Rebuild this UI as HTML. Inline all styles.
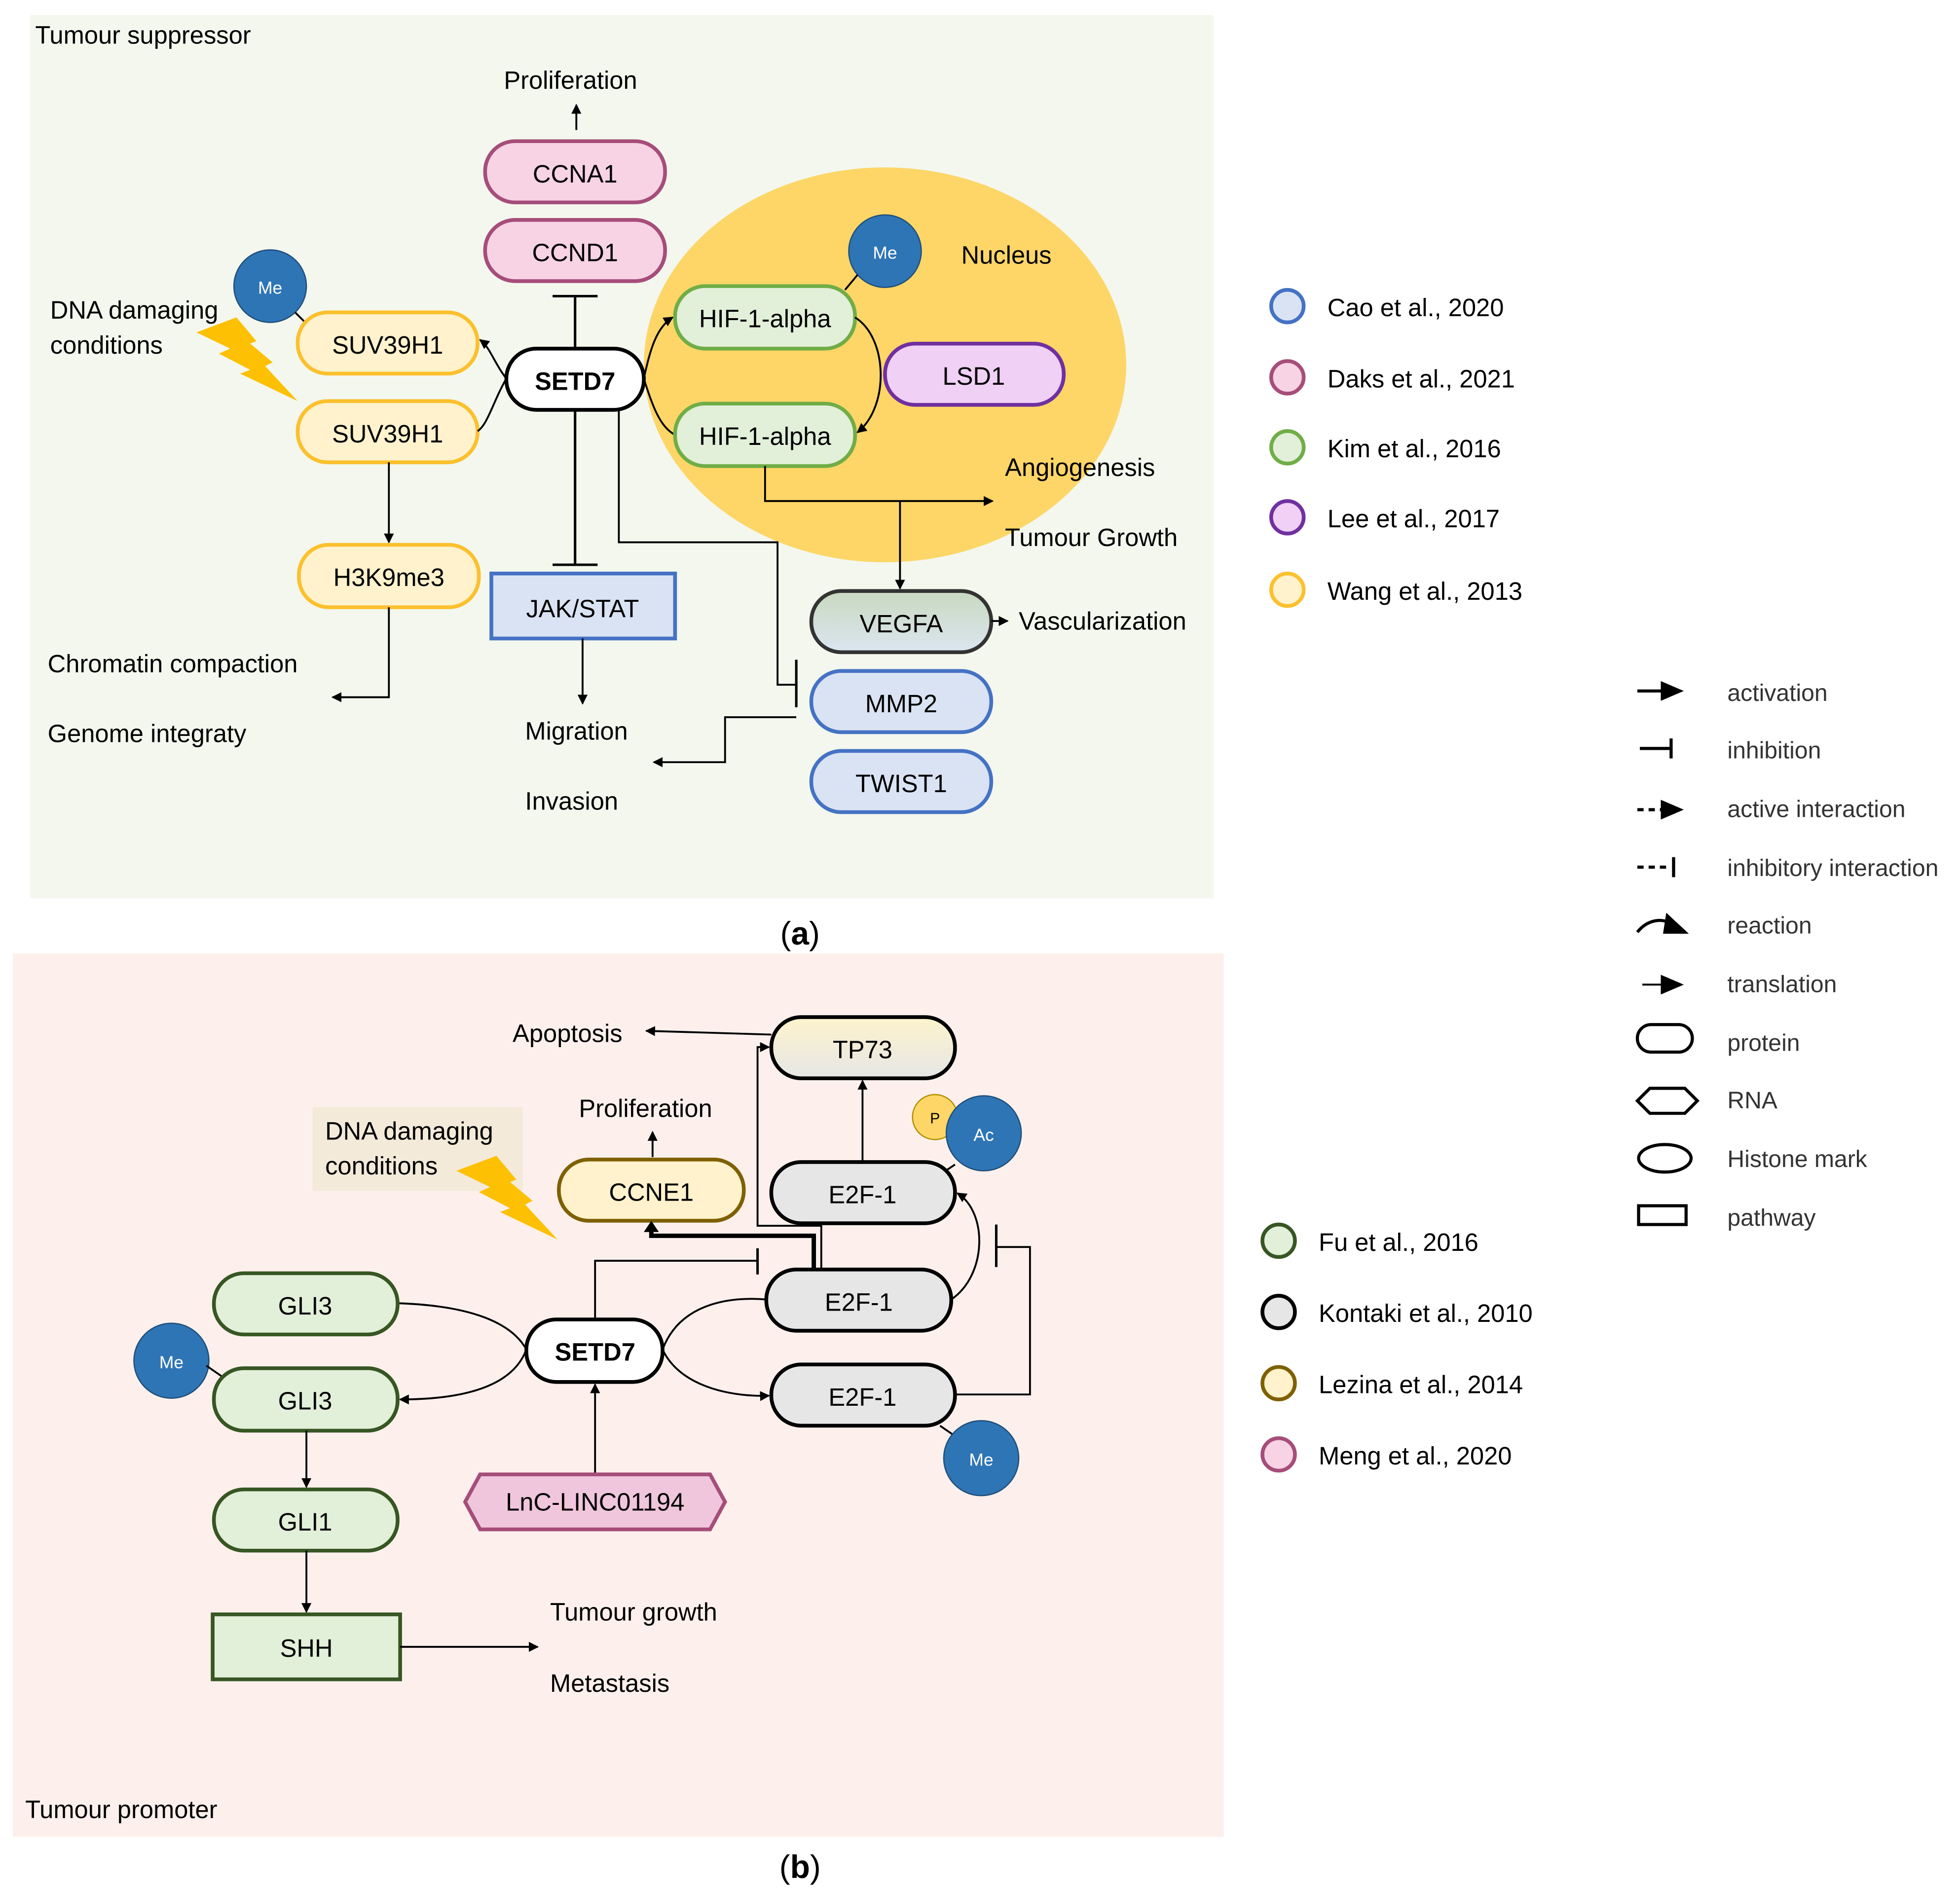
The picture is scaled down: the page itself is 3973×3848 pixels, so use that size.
<!DOCTYPE html>
<html><head><meta charset="utf-8"><style>
html,body{margin:0;padding:0;background:#fff;}
svg{display:block;}
text{font-family:"Liberation Sans","DejaVu Sans",sans-serif;}
</style></head><body>
<svg width="3973" height="3848" viewBox="0 0 1568 1519" xmlns="http://www.w3.org/2000/svg">
<defs>
<marker id="ar" markerWidth="8" markerHeight="8" refX="7" refY="4" orient="auto" markerUnits="userSpaceOnUse"><path d="M0,0 L8,4 L0,8 z" fill="#000"/></marker>
<linearGradient id="vg" x1="0" y1="0" x2="0" y2="1"><stop offset="0" stop-color="#c9d9c0"/><stop offset="1" stop-color="#dbe5f0"/></linearGradient>
<linearGradient id="tg" x1="0" y1="0" x2="0" y2="1"><stop offset="0" stop-color="#fdf3cc"/><stop offset="1" stop-color="#e6e6e6"/></linearGradient>
</defs>
<g font-size="20" fill="#000">
<!-- panel a -->
<rect x="24" y="12" width="947" height="707" fill="#f3f7ee"/>
<text x="28" y="35">Tumour suppressor</text>
<ellipse cx="708" cy="292" rx="193" ry="158" fill="#fdd667"/>
<text x="769" y="211">Nucleus</text>
<text x="403" y="71">Proliferation</text>
<line x1="461" y1="104" x2="461" y2="84" stroke="#000" stroke-width="1.5" marker-end="url(#ar)"/>
<rect x="388" y="113" width="144" height="49" rx="24" fill="#f7d3e4" stroke="#a64d79" stroke-width="3"/>
<text x="460" y="146" text-anchor="middle">CCNA1</text>
<rect x="388" y="176" width="144" height="49" rx="24" fill="#f7d3e4" stroke="#a64d79" stroke-width="3"/>
<text x="460" y="209" text-anchor="middle">CCND1</text>
<line x1="460" y1="279" x2="460" y2="237" stroke="#000" stroke-width="2"/>
<line x1="442" y1="237" x2="478" y2="237" stroke="#000" stroke-width="2"/>
<rect x="405" y="279" width="110" height="49" rx="24" fill="#fff" stroke="#000" stroke-width="3"/>
<text x="460" y="312" text-anchor="middle" font-weight="bold">SETD7</text>
<text x="40" y="255">DNA damaging</text><text x="40" y="283">conditions</text>
<polygon id="bolt" points="157,266 189,254 205,273 200,275 218,290 212,293 238,321 192,299 200,296 175,283 184,279" fill="#fdc003"/>
<circle cx="216" cy="229" r="29" fill="#2e75b6" stroke="#1f4e79"/>
<text x="216" y="235" text-anchor="middle" font-size="14" fill="#fff">Me</text>
<line x1="236" y1="250" x2="244" y2="258" stroke="#000" stroke-width="1.5"/>
<rect x="238" y="250" width="144" height="49" rx="24" fill="#fff2cc" stroke="#fbc02d" stroke-width="3"/>
<text x="310" y="283" text-anchor="middle">SUV39H1</text>
<rect x="238" y="321" width="144" height="49" rx="24" fill="#fff2cc" stroke="#fbc02d" stroke-width="3"/>
<text x="310" y="354" text-anchor="middle">SUV39H1</text>
<path d="M405,303 C395,320 390,340 382,345" fill="none" stroke="#000" stroke-width="1.5"/>
<path d="M405,303 C395,290 392,278 384,272" fill="none" stroke="#000" stroke-width="1.5" marker-end="url(#ar)"/>
<line x1="311" y1="370" x2="311" y2="434" stroke="#000" stroke-width="1.5" marker-end="url(#ar)"/>
<rect x="239" y="436" width="144" height="50" rx="24" fill="#fff2cc" stroke="#fbc02d" stroke-width="3"/>
<text x="311" y="469" text-anchor="middle">H3K9me3</text>
<polyline points="311,486 311,558 266,558" fill="none" stroke="#000" stroke-width="1.5" marker-end="url(#ar)"/>
<text x="38" y="538">Chromatin compaction</text>
<text x="38" y="594">Genome integraty</text>
<line x1="460" y1="328" x2="460" y2="452" stroke="#000" stroke-width="2"/>
<line x1="442" y1="452" x2="478" y2="452" stroke="#000" stroke-width="2"/>
<rect x="393" y="459" width="147" height="52" fill="#dae3f3" stroke="#4472c4" stroke-width="3"/>
<text x="466" y="494" text-anchor="middle">JAK/STAT</text>
<line x1="466" y1="511" x2="466" y2="563" stroke="#000" stroke-width="1.5" marker-end="url(#ar)"/>
<text x="420" y="592">Migration</text>
<text x="420" y="648">Invasion</text>
<polyline points="495,328 495,434 622,434 622,548 637,548" fill="none" stroke="#000" stroke-width="1.5"/>
<line x1="637" y1="528" x2="637" y2="566" stroke="#000" stroke-width="2"/>
<polyline points="637,574 580,574 580,610 523,610" fill="none" stroke="#000" stroke-width="1.5" marker-end="url(#ar)"/>
<path d="M515,303 C520,280 525,262 538,254" fill="none" stroke="#000" stroke-width="1.5" marker-end="url(#ar)"/>
<path d="M515,303 C522,325 528,342 540,348" fill="none" stroke="#000" stroke-width="1.5"/>
<circle cx="708" cy="201" r="29" fill="#2e75b6" stroke="#1f4e79"/>
<text x="708" y="207" text-anchor="middle" font-size="14" fill="#fff">Me</text>
<line x1="686" y1="220" x2="676" y2="232" stroke="#000" stroke-width="1.5"/>
<rect x="540" y="229" width="144" height="50" rx="24" fill="#e2efd9" stroke="#70ad47" stroke-width="3"/>
<text x="612" y="262" text-anchor="middle">HIF-1-alpha</text>
<rect x="540" y="323" width="144" height="50" rx="24" fill="#e2efd9" stroke="#70ad47" stroke-width="3"/>
<text x="612" y="356" text-anchor="middle">HIF-1-alpha</text>
<path d="M684,254 C710,270 712,325 686,346" fill="none" stroke="#000" stroke-width="1.5" marker-end="url(#ar)"/>
<rect x="708" y="275" width="143" height="49" rx="24" fill="#f0d0f5" stroke="#7030a0" stroke-width="3"/>
<text x="779" y="308" text-anchor="middle">LSD1</text>
<polyline points="612,373 612,401 794,401" fill="none" stroke="#000" stroke-width="1.5" marker-end="url(#ar)"/>
<line x1="720" y1="401" x2="720" y2="471" stroke="#000" stroke-width="1.5" marker-end="url(#ar)"/>
<text x="804" y="381">Angiogenesis</text>
<text x="804" y="437">Tumour Growth</text>
<rect x="649" y="473" width="144" height="49" rx="24" fill="url(#vg)" stroke="#333" stroke-width="3"/>
<text x="721" y="506" text-anchor="middle">VEGFA</text>
<line x1="793" y1="497" x2="806" y2="497" stroke="#000" stroke-width="1.5" marker-end="url(#ar)"/>
<text x="815" y="504">Vascularization</text>
<rect x="649" y="537" width="144" height="49" rx="24" fill="#dae3f3" stroke="#4472c4" stroke-width="3"/>
<text x="721" y="570" text-anchor="middle">MMP2</text>
<rect x="649" y="601" width="144" height="49" rx="24" fill="#dae3f3" stroke="#4472c4" stroke-width="3"/>
<text x="721" y="634" text-anchor="middle">TWIST1</text>
<text x="640" y="756" text-anchor="middle" font-family="Liberation Serif" font-size="26">(<tspan font-weight="bold">a</tspan>)</text>

<!-- legend a -->
<g stroke-width="3">
<circle cx="1030" cy="245" r="13" fill="#dae3f3" stroke="#4472c4"/>
<circle cx="1030" cy="302" r="13" fill="#f7d3e4" stroke="#a64d79"/>
<circle cx="1030" cy="358" r="13" fill="#e2efd9" stroke="#70ad47"/>
<circle cx="1030" cy="414" r="13" fill="#f0d0f5" stroke="#7030a0"/>
<circle cx="1030" cy="472" r="13" fill="#fff2cc" stroke="#fbc02d"/>
</g>
<text x="1062" y="253">Cao et al., 2020</text>
<text x="1062" y="310">Daks et al., 2021</text>
<text x="1062" y="366">Kim et al., 2016</text>
<text x="1062" y="422">Lee et al., 2017</text>
<text x="1062" y="480">Wang et al., 2013</text>

<!-- symbol legend -->
<g font-size="19" fill="#333">
<text x="1382" y="561">activation</text>
<text x="1382" y="607">inhibition</text>
<text x="1382" y="654">active interaction</text>
<text x="1382" y="701">inhibitory interaction</text>
<text x="1382" y="747">reaction</text>
<text x="1382" y="794">translation</text>
<text x="1382" y="841">protein</text>
<text x="1382" y="887">RNA</text>
<text x="1382" y="934">Histone mark</text>
<text x="1382" y="981">pathway</text>
</g>
<g stroke="#000" stroke-width="2.5" fill="none">
<line x1="1310" y1="553" x2="1332" y2="553"/><polygon points="1330,547 1344,553 1330,559" fill="#000"/>
<line x1="1312" y1="599" x2="1337" y2="599"/><line x1="1337" y1="591" x2="1337" y2="607"/>
<line x1="1310" y1="648" x2="1332" y2="648" stroke-dasharray="5,4"/><polygon points="1330,642 1344,648 1330,654" fill="#000"/>
<line x1="1310" y1="694" x2="1337" y2="694" stroke-dasharray="5,4"/><line x1="1339" y1="686" x2="1339" y2="702"/>
<path d="M1310,746 C1318,736 1330,734 1338,740"/><polygon points="1334,733 1348,746 1332,746" fill="#000"/>
<line x1="1314" y1="788" x2="1332" y2="788" stroke-width="1.5"/><polygon points="1330,782 1344,788 1330,794" fill="#000"/>
<rect x="1310" y="820" width="44" height="22" rx="11"/>
<polygon points="1310,881 1320,871 1348,871 1358,881 1348,891 1320,891"/>
<ellipse cx="1332" cy="927" rx="21" ry="11"/>
<rect x="1311" y="965" width="38" height="15"/>
</g>

<!-- panel b -->
<rect x="10" y="763" width="969" height="707" fill="#fdf0ec"/>
<text x="20" y="1455">Tumour promoter</text>
<text x="410" y="834">Apoptosis</text>
<polyline points="617,828 517,825" fill="none" stroke="#000" stroke-width="1.5" marker-end="url(#ar)"/>
<rect x="617" y="814" width="147" height="49" rx="24" fill="url(#tg)" stroke="#000" stroke-width="3"/>
<text x="690" y="847" text-anchor="middle">TP73</text>
<text x="463" y="894">Proliferation</text>
<line x1="522" y1="926" x2="522" y2="906" stroke="#000" stroke-width="1.5" marker-end="url(#ar)"/>
<rect x="250" y="886" width="168" height="67" fill="#f3ead9"/>
<text x="260" y="912">DNA damaging</text><text x="260" y="940">conditions</text>
<polygon points="157,266 189,254 205,273 200,275 218,290 212,293 238,321 192,299 200,296 175,283 184,279" fill="#fdc003" transform="translate(208,671)"/>
<rect x="447" y="928" width="148" height="49" rx="24" fill="#fff2cc" stroke="#7f6000" stroke-width="3"/>
<text x="521" y="961" text-anchor="middle">CCNE1</text>
<line x1="690" y1="930" x2="690" y2="865" stroke="#000" stroke-width="1.5" marker-end="url(#ar)"/>
<polyline points="657,1016 657,981 606,981 606,838 615,838" fill="none" stroke="#000" stroke-width="1.5" marker-end="url(#ar)"/>
<circle cx="748" cy="894" r="18" fill="#fdd667" stroke="#b38f00"/>
<text x="748" y="899" text-anchor="middle" font-size="12">P</text>
<circle cx="787" cy="907" r="30" fill="#2e75b6" stroke="#1f4e79"/>
<text x="787" y="913" text-anchor="middle" font-size="14" fill="#fff">Ac</text>
<line x1="764" y1="932" x2="758" y2="936" stroke="#000" stroke-width="1.5"/>
<rect x="617" y="930" width="147" height="49" rx="24" fill="#e7e6e6" stroke="#000" stroke-width="3"/>
<text x="690" y="963" text-anchor="middle">E2F-1</text>
<polyline points="651,1016 651,989 521,989 521,984" fill="none" stroke="#000" stroke-width="3.5"/>
<polygon points="515,986 521,977 527,986" fill="#000"/>
<polyline points="476,1056 476,1009 605,1009" fill="none" stroke="#000" stroke-width="1.5"/>
<line x1="606" y1="999" x2="606" y2="1020" stroke="#000" stroke-width="2"/>
<rect x="613" y="1016" width="148" height="49" rx="24" fill="#e7e6e6" stroke="#000" stroke-width="3"/>
<text x="687" y="1049" text-anchor="middle">E2F-1</text>
<path d="M761,1040 C790,1020 790,970 766,955" fill="none" stroke="#000" stroke-width="1.5" marker-end="url(#ar)"/>
<polyline points="764,1116 824,1116 824,998 797,998" fill="none" stroke="#000" stroke-width="1.5"/>
<line x1="797" y1="980" x2="797" y2="1014" stroke="#000" stroke-width="2"/>
<rect x="617" y="1092" width="147" height="49" rx="24" fill="#e7e6e6" stroke="#000" stroke-width="3"/>
<text x="690" y="1125" text-anchor="middle">E2F-1</text>
<line x1="752" y1="1141" x2="765" y2="1150" stroke="#000" stroke-width="1.5"/>
<circle cx="785" cy="1167" r="30" fill="#2e75b6" stroke="#1f4e79"/>
<text x="785" y="1173" text-anchor="middle" font-size="14" fill="#fff">Me</text>
<path d="M530,1080 C545,1040 590,1038 613,1040" fill="none" stroke="#000" stroke-width="1.5"/>
<path d="M530,1080 C545,1112 590,1118 615,1117" fill="none" stroke="#000" stroke-width="1.5" marker-end="url(#ar)"/>
<rect x="421" y="1056" width="109" height="50" rx="24" fill="#fff" stroke="#000" stroke-width="3"/>
<text x="476" y="1089" text-anchor="middle" font-weight="bold">SETD7</text>
<line x1="476" y1="1180" x2="476" y2="1108" stroke="#000" stroke-width="1.5" marker-end="url(#ar)"/>
<polygon points="372,1202 384,1180 568,1180 580,1202 568,1224 384,1224" fill="#f0c6dc" stroke="#a64d79" stroke-width="3"/>
<text x="476" y="1209" text-anchor="middle">LnC-LINC01194</text>
<path d="M318,1043 C380,1045 410,1060 421,1080" fill="none" stroke="#000" stroke-width="1.5"/>
<path d="M421,1080 C410,1110 370,1120 320,1120" fill="none" stroke="#000" stroke-width="1.5" marker-end="url(#ar)"/>
<rect x="171" y="1019" width="147" height="49" rx="24" fill="#e2efd9" stroke="#375623" stroke-width="3"/>
<text x="244" y="1052" text-anchor="middle">GLI3</text>
<circle cx="137" cy="1089" r="30" fill="#2e75b6" stroke="#1f4e79"/>
<text x="137" y="1095" text-anchor="middle" font-size="14" fill="#fff">Me</text>
<line x1="165" y1="1093" x2="178" y2="1102" stroke="#000" stroke-width="1.5"/>
<rect x="171" y="1095" width="147" height="50" rx="24" fill="#e2efd9" stroke="#375623" stroke-width="3"/>
<text x="244" y="1128" text-anchor="middle">GLI3</text>
<line x1="245" y1="1145" x2="245" y2="1190" stroke="#000" stroke-width="1.5" marker-end="url(#ar)"/>
<rect x="171" y="1192" width="147" height="49" rx="24" fill="#e2efd9" stroke="#375623" stroke-width="3"/>
<text x="244" y="1225" text-anchor="middle">GLI1</text>
<line x1="245" y1="1241" x2="245" y2="1290" stroke="#000" stroke-width="1.5" marker-end="url(#ar)"/>
<rect x="170" y="1292" width="150" height="52" fill="#e2efd9" stroke="#375623" stroke-width="3"/>
<text x="245" y="1326" text-anchor="middle">SHH</text>
<line x1="320" y1="1318" x2="430" y2="1318" stroke="#000" stroke-width="1.5" marker-end="url(#ar)"/>
<text x="440" y="1297">Tumour growth</text>
<text x="440" y="1354">Metastasis</text>
<text x="640" y="1503" text-anchor="middle" font-family="Liberation Serif" font-size="26">(<tspan font-weight="bold">b</tspan>)</text>

<!-- legend b -->
<g stroke-width="3">
<circle cx="1023" cy="993" r="13" fill="#e2efd9" stroke="#375623"/>
<circle cx="1023" cy="1050" r="13" fill="#e7e6e6" stroke="#000"/>
<circle cx="1023" cy="1107" r="13" fill="#fff2cc" stroke="#7f6000"/>
<circle cx="1023" cy="1164" r="13" fill="#f7d3e4" stroke="#a64d79"/>
</g>
<text x="1055" y="1001">Fu et al., 2016</text>
<text x="1055" y="1058">Kontaki et al., 2010</text>
<text x="1055" y="1115">Lezina et al., 2014</text>
<text x="1055" y="1172">Meng et al., 2020</text>
</g>
</svg>
</body></html>
